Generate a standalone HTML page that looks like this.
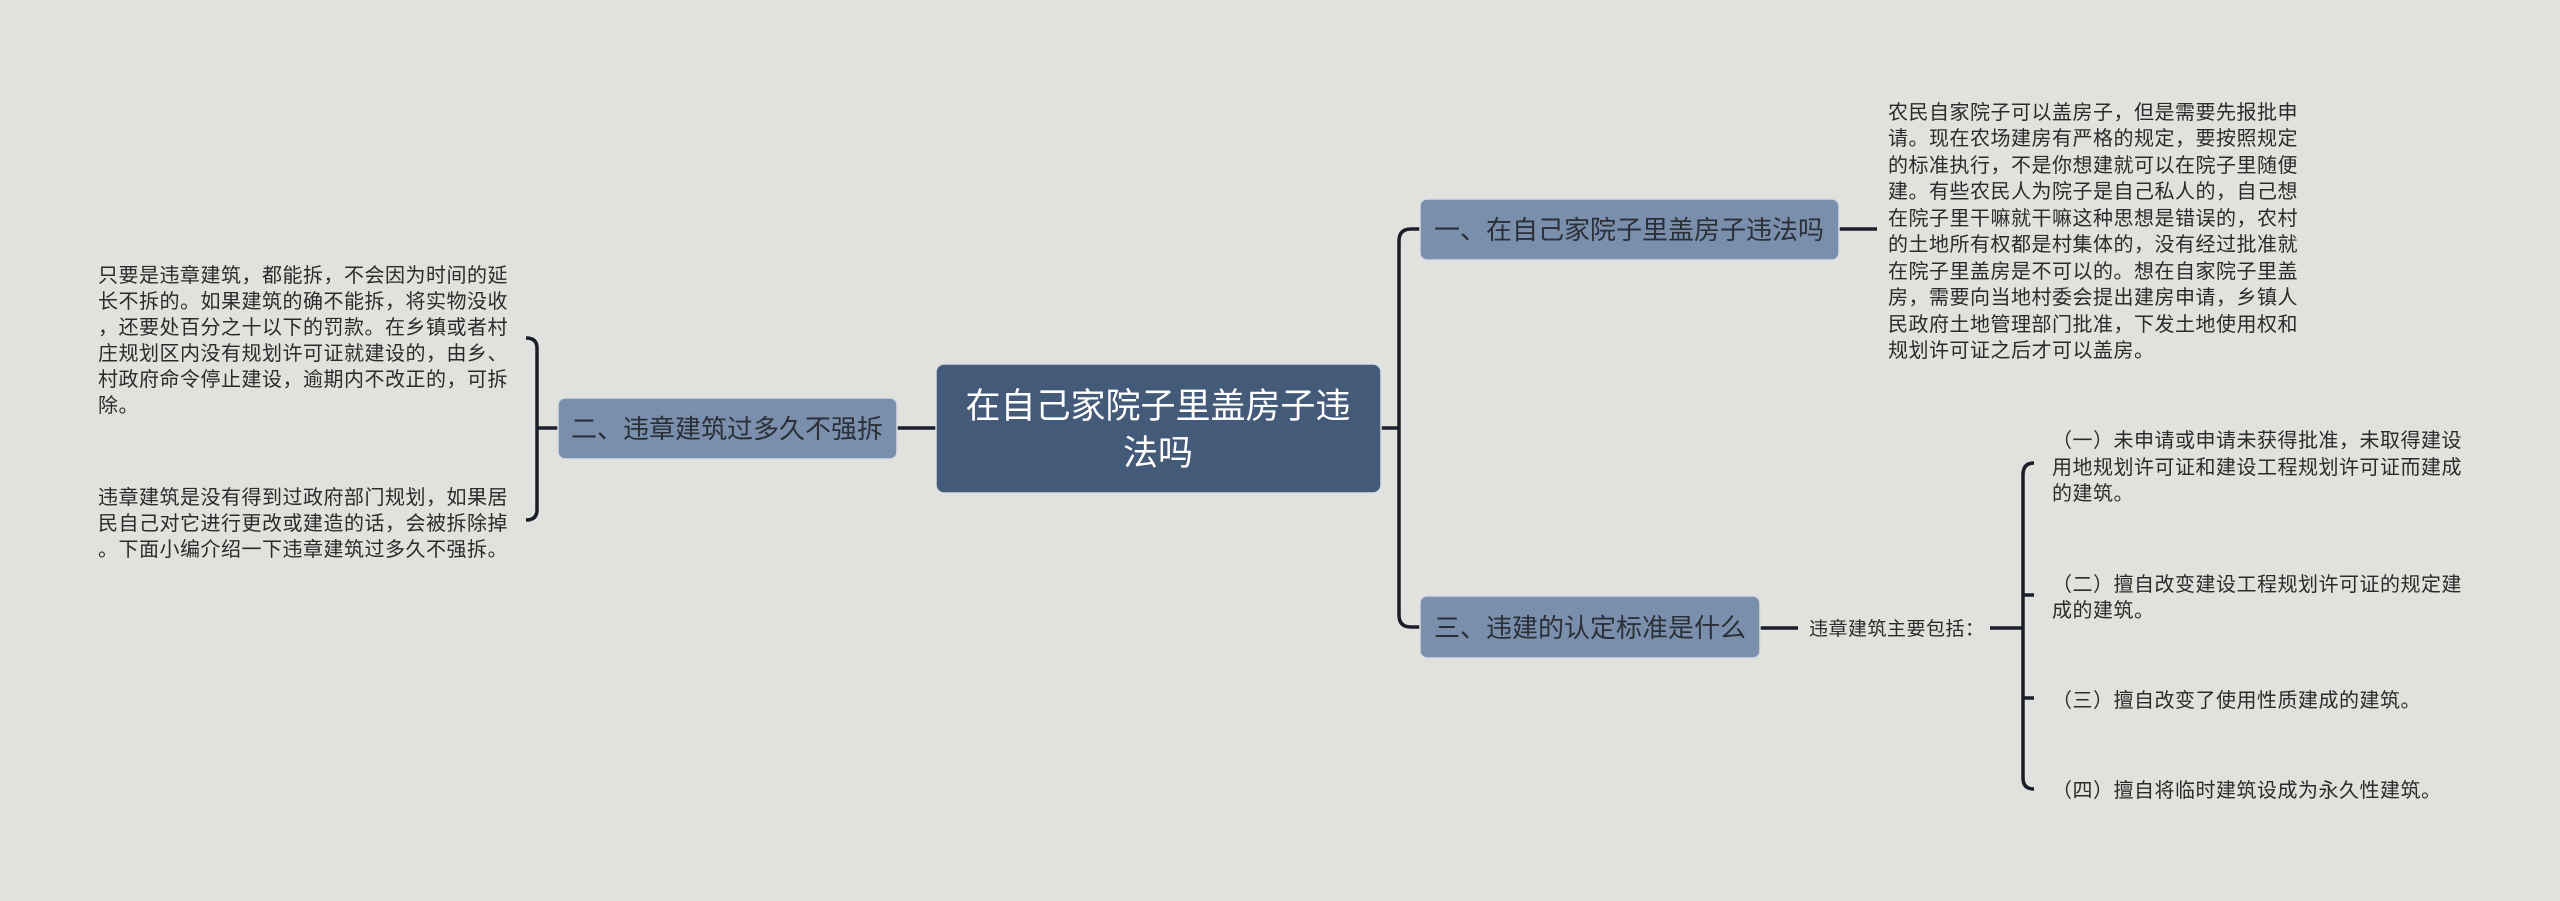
<!DOCTYPE html>
<html><head><meta charset="utf-8"><style>
html,body{margin:0;padding:0;background:#e1e2dd;}
svg{display:block;}
text{font-family:"Liberation Sans","Noto Sans CJK SC",sans-serif;}
.p text{letter-spacing:0.5px;}
</style></head><body>
<svg width="2560" height="901" viewBox="0 0 2560 901" xmlns="http://www.w3.org/2000/svg">
<rect width="2560" height="901" fill="#e1e2dd"/>
<g fill="none" stroke="#1a1e28" stroke-width="3.5">
<line x1="897" y1="428" x2="937" y2="428"/>
<line x1="1381" y1="428" x2="1399" y2="428"/>
<path d="M1420 229 H1411 Q1399 229 1399 241 V615 Q1399 627 1411 627 H1420"/>
<line x1="1839" y1="229" x2="1877" y2="229"/>
<line x1="537" y1="428" x2="558" y2="428"/>
<path d="M526 338 Q537 338 537 348 V510 Q537 520 526 520"/>
<line x1="1760" y1="628" x2="1798" y2="628"/>
<line x1="1990" y1="628" x2="2023" y2="628"/>
<path d="M2034 463 Q2023 463 2023 475 V778 Q2023 789 2034 789"/>
<line x1="2023" y1="595" x2="2034" y2="595"/>
<line x1="2023" y1="698" x2="2034" y2="698"/>
</g>
<rect x="936" y="364" width="445" height="129" rx="8" fill="#435a78" stroke="#d9dde3" stroke-width="1.5"/>
<text x="1158" y="418" font-size="35" fill="#fff" text-anchor="middle">在自己家院子里盖房子违</text>
<text x="1158" y="465" font-size="35" fill="#fff" text-anchor="middle">法吗</text>
<rect x="558" y="398" width="339" height="61" rx="7" fill="#7a8fab" stroke="#d6dbe2" stroke-width="1.5"/>
<text x="727" y="438" font-size="26" fill="#2b2f38" text-anchor="middle">二、违章建筑过多久不强拆</text>
<rect x="1420" y="199" width="419" height="61" rx="7" fill="#7a8fab" stroke="#d6dbe2" stroke-width="1.5"/>
<text x="1629" y="239" font-size="26" fill="#2b2f38" text-anchor="middle">一、在自己家院子里盖房子违法吗</text>
<rect x="1420" y="596" width="340" height="62" rx="7" fill="#7a8fab" stroke="#d6dbe2" stroke-width="1.5"/>
<text x="1590" y="637" font-size="26" fill="#2b2f38" text-anchor="middle">三、违建的认定标准是什么</text>
<g class="p" font-size="20" fill="#2b2b2b">
<text x="98" y="282">只要是违章建筑，都能拆，不会因为时间的延</text>
<text x="98" y="308">长不拆的。如果建筑的确不能拆，将实物没收</text>
<text x="98" y="334">，还要处百分之十以下的罚款。在乡镇或者村</text>
<text x="98" y="360">庄规划区内没有规划许可证就建设的，由乡、</text>
<text x="98" y="386">村政府命令停止建设，逾期内不改正的，可拆</text>
<text x="98" y="412">除。</text>
<text x="98" y="504">违章建筑是没有得到过政府部门规划，如果居</text>
<text x="98" y="530">民自己对它进行更改或建造的话，会被拆除掉</text>
<text x="98" y="556">。下面小编介绍一下违章建筑过多久不强拆。</text>
<text x="1888" y="119">农民自家院子可以盖房子，但是需要先报批申</text>
<text x="1888" y="145">请。现在农场建房有严格的规定，要按照规定</text>
<text x="1888" y="172">的标准执行，不是你想建就可以在院子里随便</text>
<text x="1888" y="198">建。有些农民人为院子是自己私人的，自己想</text>
<text x="1888" y="225">在院子里干嘛就干嘛这种思想是错误的，农村</text>
<text x="1888" y="251">的土地所有权都是村集体的，没有经过批准就</text>
<text x="1888" y="278">在院子里盖房是不可以的。想在自家院子里盖</text>
<text x="1888" y="304">房，需要向当地村委会提出建房申请，乡镇人</text>
<text x="1888" y="331">民政府土地管理部门批准，下发土地使用权和</text>
<text x="1888" y="357">规划许可证之后才可以盖房。</text>
<text x="1809" y="635" font-size="19">违章建筑主要包括：</text>
<text x="2052" y="447">（一）未申请或申请未获得批准，未取得建设</text>
<text x="2052" y="474">用地规划许可证和建设工程规划许可证而建成</text>
<text x="2052" y="500">的建筑。</text>
<text x="2052" y="591">（二）擅自改变建设工程规划许可证的规定建</text>
<text x="2052" y="617">成的建筑。</text>
<text x="2052" y="707">（三）擅自改变了使用性质建成的建筑。</text>
<text x="2052" y="797">（四）擅自将临时建筑设成为永久性建筑。</text>
</g>
</svg>
</body></html>
